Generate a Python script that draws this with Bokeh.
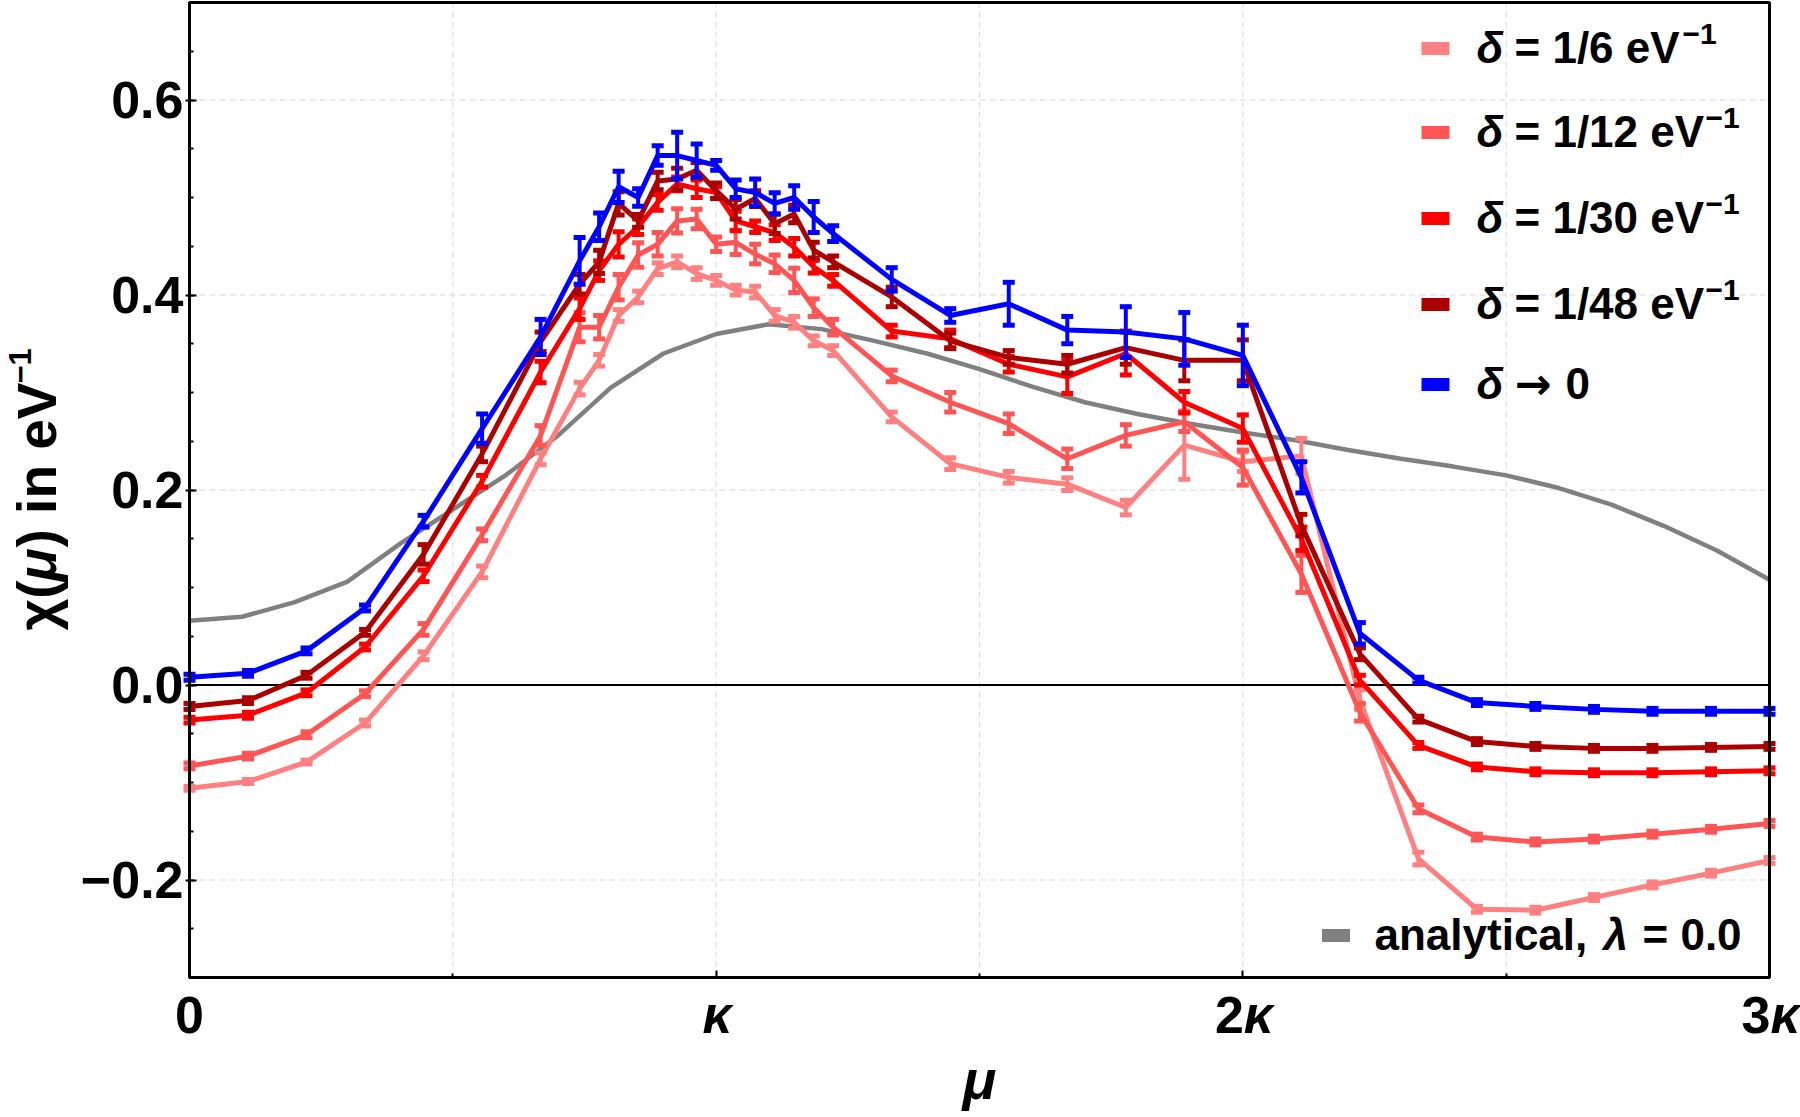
from math import pi

from bokeh.embed import file_html
from bokeh.models import BoxAnnotation, ColumnDataSource, FixedTicker, Label, Range1d
from bokeh.plotting import figure
from bokeh.resources import INLINE

# ---------------------------------------------------------------------------
# data: chemical potential mu (units of kappa) given as multiples of kappa/27
# ---------------------------------------------------------------------------
mu_27 = [0, 3, 6, 9, 12, 15, 18, 20, 21, 22, 23, 24, 25, 26, 27, 28, 29, 30, 31, 32,
         33, 36, 39, 42, 45, 48, 51, 54, 57, 60, 63, 66, 69, 72, 75, 78, 81]
mu = [m / 27 for m in mu_27]

# delta = 1/6 eV^-1
chi_d6 = [-0.106, -0.099, -0.079, -0.039, 0.030, 0.116, 0.232, 0.304, 0.333, 0.379,
          0.398, 0.427, 0.434, 0.422, 0.415, 0.405, 0.403, 0.379, 0.372, 0.353,
          0.343, 0.275, 0.227, 0.213, 0.206, 0.182, 0.246, 0.229, 0.235, -0.015,
          -0.178, -0.230, -0.231, -0.218, -0.205, -0.193, -0.180]
err_d6 = [0.002, 0.002, 0.002, 0.003, 0.004, 0.006, 0.006, 0.0065, 0.006, 0.006,
          0.006, 0.006, 0.006, 0.006, 0.005, 0.005, 0.006, 0.006, 0.006, 0.005,
          0.005, 0.005, 0.006, 0.006, 0.0065, 0.0075, 0.035, 0.010, 0.018, 0.010,
          0.0065, 0.003, 0.003, 0.003, 0.003, 0.003, 0.003]

# delta = 1/12 eV^-1
chi_d12 = [-0.083, -0.073, -0.051, -0.009, 0.057, 0.154, 0.256, 0.367, 0.367, 0.408,
           0.441, 0.452, 0.476, 0.478, 0.452, 0.454, 0.442, 0.432, 0.415, 0.387,
           0.367, 0.317, 0.290, 0.268, 0.232, 0.256, 0.270, 0.223, 0.114, -0.028,
           -0.127, -0.156, -0.161, -0.158, -0.153, -0.148, -0.142]
err_d12 = [0.003, 0.003, 0.003, 0.003, 0.006, 0.006, 0.010, 0.015, 0.012, 0.013,
           0.0125, 0.012, 0.0125, 0.010, 0.0075, 0.0125, 0.010, 0.009, 0.0125, 0.009,
           0.008, 0.006, 0.010, 0.010, 0.010, 0.011, 0.010, 0.018, 0.019, 0.009,
           0.004, 0.003, 0.003, 0.003, 0.003, 0.003, 0.003]

# delta = 1/30 eV^-1
chi_d30 = [-0.036, -0.031, -0.008, 0.039, 0.112, 0.209, 0.321, 0.386, 0.425, 0.452,
           0.470, 0.495, 0.514, 0.509, 0.505, 0.476, 0.470, 0.464, 0.449, 0.429,
           0.415, 0.363, 0.355, 0.329, 0.316, 0.340, 0.290, 0.263, 0.150, 0.005,
           -0.062, -0.084, -0.089, -0.090, -0.090, -0.089, -0.088]
err_d30 = [0.003, 0.003, 0.003, 0.003, 0.006, 0.006, 0.011, 0.011, 0.010, 0.013,
           0.008, 0.008, 0.007, 0.009, 0.006, 0.010, 0.006, 0.008, 0.009, 0.0065,
           0.006, 0.006, 0.009, 0.008, 0.017, 0.022, 0.011, 0.014, 0.012, 0.005,
           0.003, 0.003, 0.003, 0.003, 0.003, 0.003, 0.003]

# delta = 1/48 eV^-1
chi_d48 = [-0.022, -0.016, 0.010, 0.054, 0.134, 0.237, 0.352, 0.411, 0.434, 0.494,
           0.476, 0.517, 0.519, 0.528, 0.507, 0.488, 0.499, 0.473, 0.483, 0.446,
           0.434, 0.398, 0.353, 0.336, 0.329, 0.346, 0.333, 0.333, 0.164, 0.032,
           -0.035, -0.058, -0.063, -0.065, -0.065, -0.064, -0.063]
err_d48 = [0.003, 0.003, 0.003, 0.003, 0.010, 0.008, 0.010, 0.010, 0.012, 0.012,
           0.0065, 0.009, 0.011, 0.008, 0.008, 0.010, 0.008, 0.010, 0.009, 0.008,
           0.006, 0.010, 0.008, 0.007, 0.009, 0.017, 0.021, 0.021, 0.011, 0.006,
           0.003, 0.003, 0.003, 0.003, 0.003, 0.003, 0.003]

# delta -> 0 extrapolation
chi_d0 = [0.008, 0.012, 0.035, 0.079, 0.168, 0.263, 0.357, 0.435, 0.470, 0.511,
          0.500, 0.543, 0.543, 0.538, 0.533, 0.509, 0.505, 0.494, 0.500, 0.480,
          0.463, 0.416, 0.379, 0.391, 0.364, 0.362, 0.355, 0.338, 0.213, 0.053,
          0.005, -0.018, -0.022, -0.025, -0.027, -0.027, -0.027]
err_d0 = [0.003, 0.003, 0.003, 0.003, 0.006, 0.015, 0.018, 0.024, 0.014, 0.016,
          0.009, 0.010, 0.024, 0.017, 0.005, 0.009, 0.014, 0.011, 0.012, 0.016,
          0.008, 0.012, 0.007, 0.022, 0.014, 0.026, 0.027, 0.031, 0.016, 0.011,
          0.003, 0.003, 0.003, 0.003, 0.003, 0.003, 0.003]

# analytical curve, lambda = 0.0
mu_an = [0.0, 0.1, 0.2, 0.3, 0.4, 0.5, 0.6, 0.7, 0.8, 0.9, 1.0, 1.1, 1.2, 1.3, 1.4,
         1.5, 1.6, 1.7, 1.8, 1.9, 2.0, 2.1, 2.2, 2.3, 2.4, 2.5, 2.6, 2.7, 2.8, 2.9, 3.0]
chi_an = [0.066, 0.070, 0.085, 0.106, 0.145, 0.180, 0.215, 0.256, 0.305, 0.340,
          0.360, 0.370, 0.365, 0.353, 0.340, 0.324, 0.306, 0.290, 0.278, 0.268,
          0.259, 0.251, 0.241, 0.232, 0.224, 0.215, 0.202, 0.185, 0.163, 0.138, 0.108]

series = [
    ("1/6", chi_d6, err_d6, "#FF8080"),
    ("1/12", chi_d12, err_d12, "#FF5555"),
    ("1/30", chi_d30, err_d30, "#FF0000"),
    ("1/48", chi_d48, err_d48, "#AA0000"),
    ("0", chi_d0, err_d0, "#0000FF"),
]

x_ticks = [0, 1, 2, 3]
x_tick_labels = [("0", ""), ("", "κ"), ("2", "κ"), ("3", "κ")]
x_grid = [0.5, 1.0, 1.5, 2.0, 2.5]
y_ticks = [-0.2, 0.0, 0.2, 0.4, 0.6]
y_tick_labels = ["−0.2", "0.0", "0.2", "0.4", "0.6"]
y_grid = [-0.2, 0.2, 0.4, 0.6]

FONT = "Liberation Sans"

# ---------------------------------------------------------------------------
# canvas: the frame fills the whole canvas, the boxed plot area sits inside it
# ---------------------------------------------------------------------------
W, H = 1800, 1117
BOX_L, BOX_R, BOX_T, BOX_B = 189, 1769, 2, 977
X0, X1, Y0, Y1 = 0.0, 3.0, -0.3, 0.7
PX_X = (BOX_R - BOX_L) / (X1 - X0)
PX_Y = (BOX_B - BOX_T) / (Y1 - Y0)
xr = Range1d(X0 - BOX_L / PX_X, X1 + (W - BOX_R) / PX_X)
yr = Range1d(Y0 - (H - BOX_B) / PX_Y, Y1 + BOX_T / PX_Y)

p = figure(width=W, height=H, output_backend="svg", toolbar_location=None,
           x_range=xr, y_range=yr, min_border=0)
p.background_fill_color = "white"
p.border_fill_color = "white"
p.outline_line_color = None
p.grid.visible = False


def dx(px):
    return xr.start + px / PX_X


def dy(py):
    return yr.end - py / PX_Y


# axes pinned to the edges of the plot box
p.xaxis.fixed_location = Y0
p.xaxis.bounds = (X0, X1)
p.yaxis.fixed_location = X0
p.yaxis.bounds = (Y0, Y1)
p.xaxis.ticker = FixedTicker(ticks=x_ticks, minor_ticks=[0.5, 1.5, 2.5])
p.xaxis.major_label_overrides = {t: "" for t in x_ticks}
p.yaxis.ticker = FixedTicker(ticks=y_ticks,
                             minor_ticks=[round(-0.3 + 0.05 * k, 2) for k in range(21)])
p.yaxis.major_label_overrides = dict(zip(y_ticks, y_tick_labels))
for ax in (p.xaxis, p.yaxis):
    ax.axis_line_color = "black"
    ax.axis_line_width = 3
    ax.major_tick_line_color = "black"
    ax.major_tick_line_width = 2
    ax.minor_tick_line_color = "black"
    ax.minor_tick_line_width = 2
    ax.major_tick_in = 7
    ax.major_tick_out = 0
    ax.minor_tick_in = 4
    ax.minor_tick_out = 0
p.yaxis.major_tick_out = 4
p.yaxis.major_label_standoff = 2
p.yaxis.major_label_text_font = FONT
p.yaxis.major_label_text_font_size = "52px"
p.yaxis.major_label_text_font_style = "bold"
p.yaxis.major_label_text_color = "black"

# dashed grid inside the box
p.segment(x0=x_grid, y0=[Y0] * len(x_grid), x1=x_grid, y1=[Y1] * len(x_grid),
          line_color="#d9d9d9", line_width=1, line_dash="6 4", level="underlay")
p.segment(x0=[X0] * len(y_grid), y0=y_grid, x1=[X1] * len(y_grid), y1=y_grid,
          line_color="#d9d9d9", line_width=1, line_dash="6 4", level="underlay")
# zero line
p.segment(x0=[X0], y0=[0.0], x1=[X1], y1=[0.0], line_color="black", line_width=2)

# ---------------------------------------------------------------------------
# curves
# ---------------------------------------------------------------------------
p.line(mu_an, chi_an, line_color="#808080", line_width=4.5)

for name, chi, err, color in series:
    lo = [c - e for c, e in zip(chi, err)]
    hi = [c + e for c, e in zip(chi, err)]
    src = ColumnDataSource(dict(mu=mu, chi=chi, lo=lo, hi=hi))
    p.line("mu", "chi", source=src, line_color=color, line_width=5)
    p.segment("mu", "lo", "mu", "hi", source=src, line_color=color, line_width=4)
    for end in ("lo", "hi"):
        p.rect("mu", end, width=12, height=5, width_units="screen",
               height_units="screen", source=src, fill_color=color,
               line_color=None)

# frame around the plot area
p.add_layout(BoxAnnotation(left=X0, right=X1, bottom=Y0, top=Y1,
                           fill_color=None, fill_alpha=0,
                           line_color="black", line_width=3, line_alpha=1))


# ---------------------------------------------------------------------------
# texts (positions in canvas pixels; y is the vertical middle of the text)
# ---------------------------------------------------------------------------
def put(px, py, txt, size, style="bold", align="left", angle=0.0, font=FONT):
    p.add_layout(Label(x=dx(px), y=dy(py), text=txt, text_font=font,
                       text_font_size=f"{size}px", text_font_style=style,
                       text_align=align, text_baseline="middle",
                       angle=angle, text_color="black"))


# x tick labels
for t, (num, sym) in zip(x_ticks, x_tick_labels):
    sx = BOX_L + PX_X * (t - X0)
    if num and sym:
        put(sx + 1, 1014, num, 52, align="right")
        put(sx + 1, 1014, sym, 52, style="bold italic", align="left")
    elif num:
        put(sx, 1014, num, 52, align="center")
    else:
        put(sx + 1, 1014, sym, 52, style="bold italic", align="center")

# axis titles
put((BOX_L + BOX_R) / 2, 1079, "μ", 56, style="bold italic", align="center")
put(36, 630, "χ(", 55, angle=pi / 2)
put(36, 581, "μ", 55, style="bold italic", angle=pi / 2)
put(36, 547, ") in eV", 55, angle=pi / 2)
put(19, 383, "−1", 31, angle=pi / 2)

# legend
row_mid = [47.0, 131.0, 217.0, 303.0, 383.0]
row_text = ["= 1/6 eV", "= 1/12 eV", "= 1/30 eV", "= 1/48 eV", None]
sup_x = [1682, 1705, 1705, 1705, None]
sw = ColumnDataSource(dict(x=[dx(1435)] * 5 + [dx(1335.5)],
                           y=[dy(m + 1) for m in row_mid] + [dy(935)],
                           c=[s[3] for s in series] + ["#808080"]))
p.rect("x", "y", width=28, height=13, width_units="screen", height_units="screen",
       fill_color="c", line_color=None, source=sw)
for m, txt, sx in zip(row_mid, row_text, sup_x):
    put(1476, m, "δ", 44, style="bold italic")
    if txt is not None:
        put(1514, m, txt, 44)
        put(sx, m - 13.5, "−1", 30)
    else:
        put(1514, m, "→", 44, font="DejaVu Sans")
        put(1565, m, "0", 44)

put(1374, 934, "analytical,", 44)
put(1603, 934, "λ", 44, style="bold italic")
put(1642, 934, "= 0.0", 44)

open("out.html", "w").write(file_html(p, INLINE))
